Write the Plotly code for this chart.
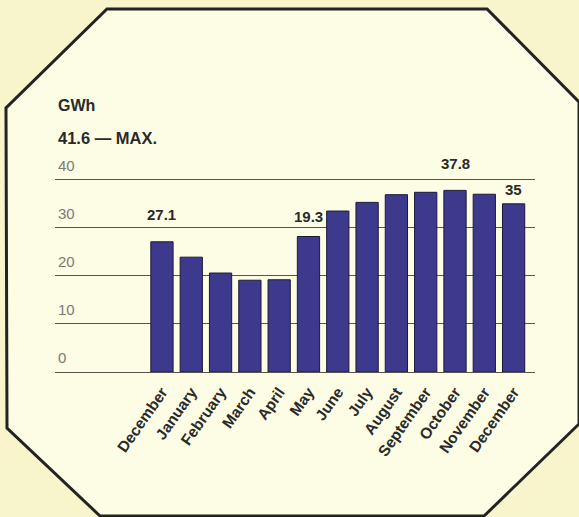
import plotly.graph_objects as go

months = ["December", "January", "February", "March", "April", "May", "June",
          "July", "August", "September", "October", "November", "December"]
values = [27.1, 23.9, 20.6, 19.1, 19.2, 28.2, 33.5, 35.3, 36.9, 37.4, 37.8, 37.0, 35.0]
y_ticks = [0, 10, 20, 30, 40]
label_idx = [0, 5, 10, 12]
label_text = ["27.1", "19.3", "37.8", "35"]
label_shift = [17, 10, 16, 4]

W, H = 579, 517
ML, MR, MT, MB = 55, 44, 175, 145
PW, PH = W - ML - MR, H - MT - MB

def px(x):
    return (x - ML) / PW

def py(y):
    return (H - MB - y) / PH

octagon = [(107, 9), (487, 9), (579, 102), (579, 424), (484, 516), (100, 516), (7, 428), (6, 108)]
path = "M " + " L ".join(f"{px(a):.4f},{py(b):.4f}" for a, b in octagon) + " Z"

FONT = "Liberation Sans, Arial, Helvetica, sans-serif"
x = list(range(len(months)))

fig = go.Figure(go.Bar(
    x=x, y=values,
    marker=dict(color="#3d3a8e", line=dict(color="#1b1a3a", width=1)),
    width=0.76,
    hoverinfo="skip",
))

fig.add_shape(type="path", path=path, xref="paper", yref="paper",
              line=dict(color="#232323", width=3), fillcolor="#fdfde6", layer="below")

ann = []
for v in y_ticks:
    ann.append(dict(x=px(56), xref="paper", y=v, yref="y", text=str(v), showarrow=False,
                    xanchor="left", yanchor="bottom", yshift=4,
                    font=dict(family=FONT, size=15, color="#7a7a72")))
for i, t, s in zip(label_idx, label_text, label_shift):
    ann.append(dict(x=i, xref="x", y=values[i], yref="y", text=f"<b>{t}</b>", showarrow=False,
                    xanchor="center", yanchor="bottom", yshift=s,
                    font=dict(family=FONT, size=15, color="#2a2a2a")))
ann.append(dict(x=px(56), xref="paper", y=py(105), yref="paper", text="<b>GWh</b>", showarrow=False,
                xanchor="left", yanchor="middle", font=dict(family=FONT, size=16, color="#2a2a2a")))
ann.append(dict(x=px(56), xref="paper", y=py(138), yref="paper", text="<b>41.6 — MAX.</b>", showarrow=False,
                xanchor="left", yanchor="middle", font=dict(family=FONT, size=16.5, color="#2a2a2a")))

fig.update_layout(
    width=W, height=H,
    margin=dict(l=ML, r=MR, t=MT, b=MB, pad=0),
    paper_bgcolor="#f8f5cc",
    plot_bgcolor="rgba(0,0,0,0)",
    showlegend=False,
    annotations=ann,
    xaxis=dict(range=[-3.65, 12.73], tickmode="array", tickvals=x,
               ticktext=[f"<b>{m}</b>" for m in months], tickangle=-55,
               showgrid=False, zeroline=False, showline=False, ticks="",
               ticklabelstandoff=7,
               tickfont=dict(family=FONT, size=15.5, color="#2a2a2a"), fixedrange=True),
    yaxis=dict(range=[0, 41], tickvals=y_ticks, showticklabels=False,
               showgrid=True, gridcolor="#55554a", gridwidth=1.3,
               zeroline=True, zerolinecolor="#55554a", zerolinewidth=1.3,
               showline=False, ticks="", fixedrange=True),
)

fig.write_html("out.html")
